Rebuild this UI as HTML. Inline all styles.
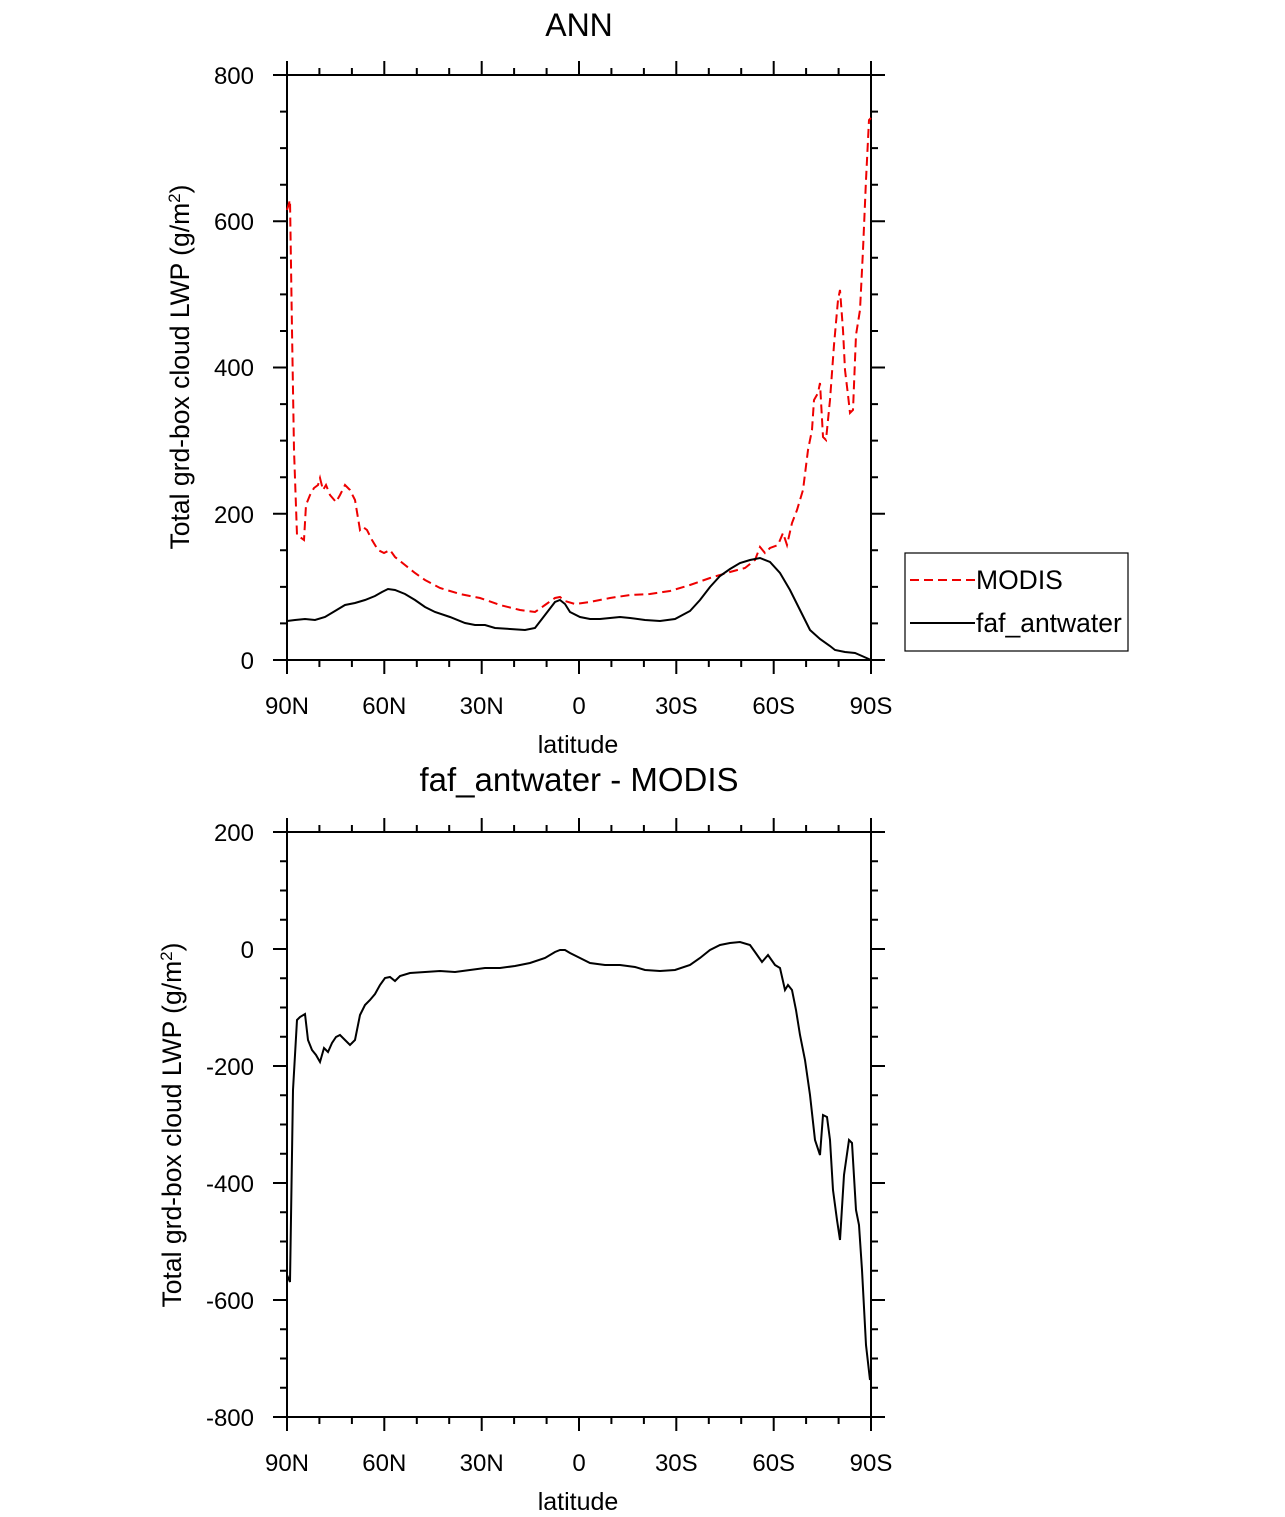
<!DOCTYPE html>
<html><head><style>body{margin:0;background:#fff}svg{display:block}</style></head><body>
<svg width="1285" height="1517" xmlns="http://www.w3.org/2000/svg" font-family="Liberation Sans, sans-serif">
<g stroke="#000" stroke-width="2" fill="none">
<path d="M287 75v-14M319.4 75v-7M351.9 75v-7M384.3 75v-14M416.8 75v-7M449.2 75v-7M481.7 75v-14M514.1 75v-7M546.6 75v-7M579 75v-14M611.4 75v-7M643.9 75v-7M676.3 75v-14M708.8 75v-7M741.2 75v-7M773.7 75v-14M806.1 75v-7M838.6 75v-7M871 75v-14"/>
<path d="M287 660v14M319.4 660v7M351.9 660v7M384.3 660v14M416.8 660v7M449.2 660v7M481.7 660v14M514.1 660v7M546.6 660v7M579 660v14M611.4 660v7M643.9 660v7M676.3 660v14M708.8 660v7M741.2 660v7M773.7 660v14M806.1 660v7M838.6 660v7M871 660v14"/>
<path d="M287 832v-14M319.4 832v-7M351.9 832v-7M384.3 832v-14M416.8 832v-7M449.2 832v-7M481.7 832v-14M514.1 832v-7M546.6 832v-7M579 832v-14M611.4 832v-7M643.9 832v-7M676.3 832v-14M708.8 832v-7M741.2 832v-7M773.7 832v-14M806.1 832v-7M838.6 832v-7M871 832v-14"/>
<path d="M287 1417v14M319.4 1417v7M351.9 1417v7M384.3 1417v14M416.8 1417v7M449.2 1417v7M481.7 1417v14M514.1 1417v7M546.6 1417v7M579 1417v14M611.4 1417v7M643.9 1417v7M676.3 1417v14M708.8 1417v7M741.2 1417v7M773.7 1417v14M806.1 1417v7M838.6 1417v7M871 1417v14"/>
<path d="M287 75h-14M287 111.6h-7M287 148.1h-7M287 184.7h-7M287 221.3h-14M287 257.8h-7M287 294.4h-7M287 331h-7M287 367.5h-14M287 404.1h-7M287 440.6h-7M287 477.2h-7M287 513.8h-14M287 550.3h-7M287 586.9h-7M287 623.4h-7M287 660h-14"/>
<path d="M871 75h14M871 111.6h7M871 148.1h7M871 184.7h7M871 221.3h14M871 257.8h7M871 294.4h7M871 331h7M871 367.5h14M871 404.1h7M871 440.6h7M871 477.2h7M871 513.8h14M871 550.3h7M871 586.9h7M871 623.4h7M871 660h14"/>
<path d="M287 832h-14M287 861.25h-7M287 890.5h-7M287 919.75h-7M287 949h-14M287 978.25h-7M287 1007.5h-7M287 1036.75h-7M287 1066h-14M287 1095.25h-7M287 1124.5h-7M287 1153.75h-7M287 1183h-14M287 1212.25h-7M287 1241.5h-7M287 1270.75h-7M287 1300h-14M287 1329.25h-7M287 1358.5h-7M287 1387.75h-7M287 1417h-14"/>
<path d="M871 832h14M871 861.25h7M871 890.5h7M871 919.75h7M871 949h14M871 978.25h7M871 1007.5h7M871 1036.75h7M871 1066h14M871 1095.25h7M871 1124.5h7M871 1153.75h7M871 1183h14M871 1212.25h7M871 1241.5h7M871 1270.75h7M871 1300h14M871 1329.25h7M871 1358.5h7M871 1387.75h7M871 1417h14"/>
</g>
<rect x="287" y="75" width="584" height="585" fill="none" stroke="#000" stroke-width="2"/>
<rect x="287" y="832" width="584" height="585" fill="none" stroke="#000" stroke-width="2"/>
<g font-size="24" text-anchor="middle">
<text x="579" y="36" font-size="32">ANN</text>
<text x="579" y="791" font-size="33">faf_antwater - MODIS</text>
<text x="287" y="714">90N</text><text x="384.3" y="714">60N</text><text x="481.7" y="714">30N</text><text x="579" y="714">0</text><text x="676.3" y="714">30S</text><text x="773.7" y="714">60S</text><text x="871" y="714">90S</text>
<text x="287" y="1471">90N</text><text x="384.3" y="1471">60N</text><text x="481.7" y="1471">30N</text><text x="579" y="1471">0</text><text x="676.3" y="1471">30S</text><text x="773.7" y="1471">60S</text><text x="871" y="1471">90S</text>
<text x="578" y="753" font-size="25">latitude</text>
<text x="578" y="1510" font-size="25">latitude</text>
</g>
<g font-size="24" text-anchor="end">
<text x="254" y="84">800</text><text x="254" y="230">600</text><text x="254" y="376">400</text><text x="254" y="523">200</text><text x="254" y="669">0</text>
<text x="254" y="841">200</text><text x="254" y="958">0</text><text x="254" y="1075">-200</text><text x="254" y="1192">-400</text><text x="254" y="1309">-600</text><text x="254" y="1426">-800</text>
</g>
<text transform="translate(189,367) rotate(-90)" font-size="26.5" text-anchor="middle">Total grd-box cloud LWP (g/m<tspan dy="-9" font-size="17">2</tspan><tspan dy="9">)</tspan></text>
<text transform="translate(181,1125) rotate(-90)" font-size="26.5" text-anchor="middle">Total grd-box cloud LWP (g/m<tspan dy="-9" font-size="17">2</tspan><tspan dy="9">)</tspan></text>
<polyline fill="none" stroke="#e00" stroke-width="2" stroke-dasharray="9,5" points="287,210 290,200 292,330 294,450 297,535 300,537 304,540 306,505 310,495 314,488 318,485 320,478 323,490 326,485 330,495 336,502 340,495 345,485 350,490 355,500 360,530 363,527 367,530 372,540 378,550 384,553 390,550 395,557 405,565 415,573 425,580 440,588 460,594 480,598 500,605 520,610 535,612 545,605 555,598 560,597 565,601 575,604 590,602 610,598 630,595 650,594 670,591 690,585 710,578 730,572 745,568 755,560 760,547 765,553 770,548 778,545 783,533 787,545 792,523 797,510 803,490 808,450 812,430 814,400 818,393 820,383 823,437 826,440 830,400 834,345 838,300 840,290 843,330 845,370 848,395 850,413 853,410 856,335 860,310 863,250 866,180 869,120 871,118"/>
<polyline fill="none" stroke="#000" stroke-width="2" points="287,621 295,620 305,619 315,620 325,617 335,611 345,605 355,603 365,600 375,596 382,592 388,589 395,590 405,594 415,600 425,607 435,612 450,617 465,623 475,625 485,625 495,628 510,629 525,630 535,628 545,615 555,602 560,600 565,604 570,612 580,617 590,619 600,619 610,618 620,617 630,618 645,620 660,621 675,619 690,611 700,600 710,587 720,576 730,569 740,563 750,560 760,558 770,562 780,573 790,590 800,610 810,630 820,639 830,646 835,650 845,652 855,653 862,656 871,660"/>
<polyline fill="none" stroke="#000" stroke-width="2" points="287,1275 290,1282 293,1090 297,1020 300,1017 305,1014 308,1040 312,1050 316,1055 320,1062 324,1048 328,1052 332,1043 336,1037 340,1035 345,1040 350,1045 355,1040 360,1015 365,1005 370,1000 375,994 380,985 385,978 390,977 395,981 400,976 410,973 425,972 440,971 455,972 470,970 485,968 500,968 515,966 530,963 545,958 555,952 560,950 565,950 570,953 580,958 590,963 605,965 620,965 635,967 645,970 660,971 675,970 690,965 700,958 710,950 720,945 730,943 740,942 750,945 755,952 762,962 768,955 775,965 780,968 785,990 788,985 792,990 796,1010 800,1035 805,1060 810,1095 815,1140 820,1155 823,1115 827,1117 830,1140 833,1190 837,1220 840,1240 844,1175 849,1140 852,1143 856,1210 859,1225 862,1270 866,1345 870,1380"/>
<rect x="905" y="553" width="223" height="98" fill="#fff" stroke="#000" stroke-width="1.2"/>
<line x1="910" y1="580" x2="975" y2="580" stroke="#e00" stroke-width="2" stroke-dasharray="9,5"/>
<line x1="910" y1="623" x2="975" y2="623" stroke="#000" stroke-width="2"/>
<text x="976" y="589" font-size="26.5">MODIS</text>
<text x="976" y="632" font-size="26.5">faf_antwater</text>
</svg>
</body></html>
